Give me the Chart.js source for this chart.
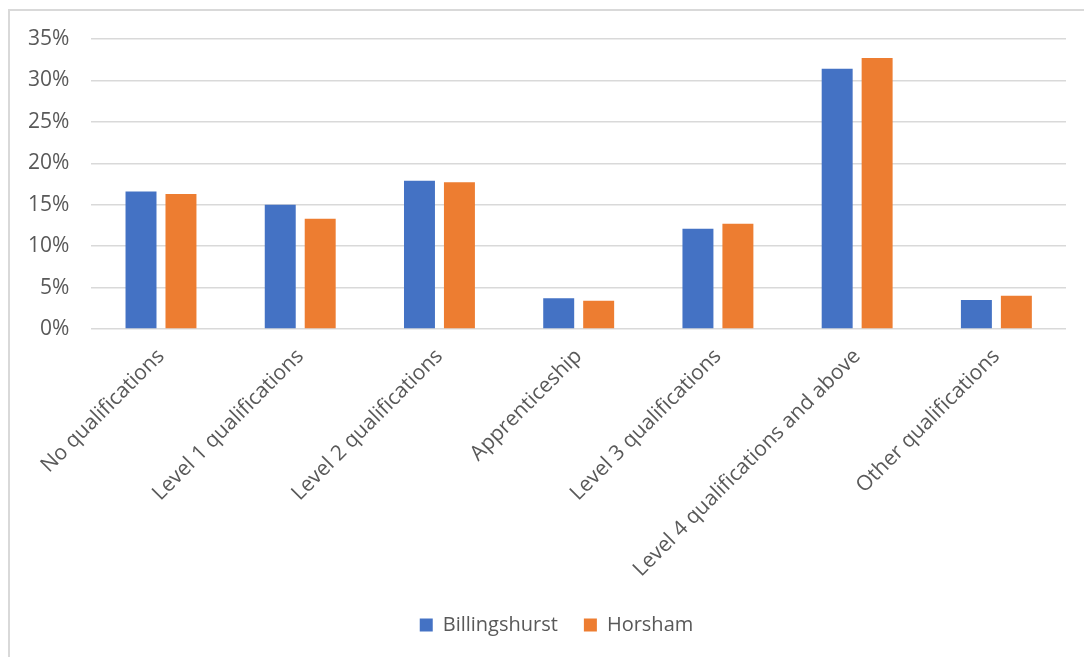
<!DOCTYPE html>
<html>
<head>
<meta charset="utf-8">
<script src="https://cdn.jsdelivr.net/npm/chart.js@4/dist/chart.umd.min.js"></script>
<style>
  html, body { margin: 0; padding: 0; background: #fff; }
  #wrap { position: relative; width: 1084px; height: 657px; }
</style>
</head>
<body>
<div id="wrap"><canvas id="myChart" width="1084" height="657"></canvas></div>
<script>
const categories = [
  'No qualifications',
  'Level 1 qualifications',
  'Level 2 qualifications',
  'Apprenticeship',
  'Level 3 qualifications',
  'Level 4 qualifications and above',
  'Other qualifications'
];
const billingshurst = [16.6, 15.0, 17.9, 3.7, 12.1, 31.4, 3.5];
const horsham = [16.3, 13.3, 17.7, 3.4, 12.7, 32.7, 4.0];
const yTicks = [0, 5, 10, 15, 20, 25, 30, 35];

const textColor = '#595959';
const fontFamily = "'Open Sans', 'DejaVu Sans', sans-serif";

// light frame (only left and top edges show) + legend nudged right like the original
const framePlugin = {
  id: 'frame',
  afterLayout(chart) {
    chart.legend.left += 41;
  },
  beforeDraw(chart) {
    let ctx = chart.ctx;
    ctx.save();
    ctx.strokeStyle = '#d9d9d9';
    ctx.lineWidth = 2;
    ctx.beginPath();
    ctx.moveTo(9, 657);
    ctx.lineTo(9, 10);
    ctx.lineTo(1084, 10);
    ctx.stroke();
    ctx.restore();
  }
};

new Chart(document.getElementById('myChart'), {
  type: 'bar',
  data: {
    labels: categories,
    datasets: [
      { label: 'Billingshurst', data: billingshurst, backgroundColor: '#4472C4' },
      { label: 'Horsham', data: horsham, backgroundColor: '#ED7D31' }
    ]
  },
  options: {
    responsive: false,
    animation: false,
    devicePixelRatio: 1,
    categoryPercentage: 0.574,
    barPercentage: 0.775,
    layout: { padding: { left: 6, right: 18, top: 39, bottom: 12 } },
    plugins: {
      legend: {
        position: 'bottom',
        labels: {
          boxWidth: 13,
          boxHeight: 13,
          padding: 26,
          color: textColor,
          font: { family: fontFamily, size: 20 }
        }
      },
      tooltip: { enabled: false }
    },
    scales: {
      x: {
        grid: { display: false },
        border: { display: false },
        afterFit: (scale) => {
          // let rotated labels run past the plot edge
          scale.paddingLeft = 0;
          scale.paddingRight = 0;
        },
        ticks: {
          color: textColor,
          font: { family: fontFamily, size: 21 },
          minRotation: 45,
          maxRotation: 45,
          padding: 7
        }
      },
      y: {
        min: 0,
        max: 35,
        afterBuildTicks: (axis) => { axis.ticks = yTicks.map(v => ({ value: v })); },
        grid: { color: '#d9d9d9', lineWidth: 1.5, drawTicks: false },
        border: { display: false },
        ticks: {
          color: textColor,
          font: { family: fontFamily, size: 21 },
          padding: 22,
          callback: (v) => v + '%'
        }
      }
    }
  },
  plugins: [framePlugin]
});
</script>
</body>
</html>
